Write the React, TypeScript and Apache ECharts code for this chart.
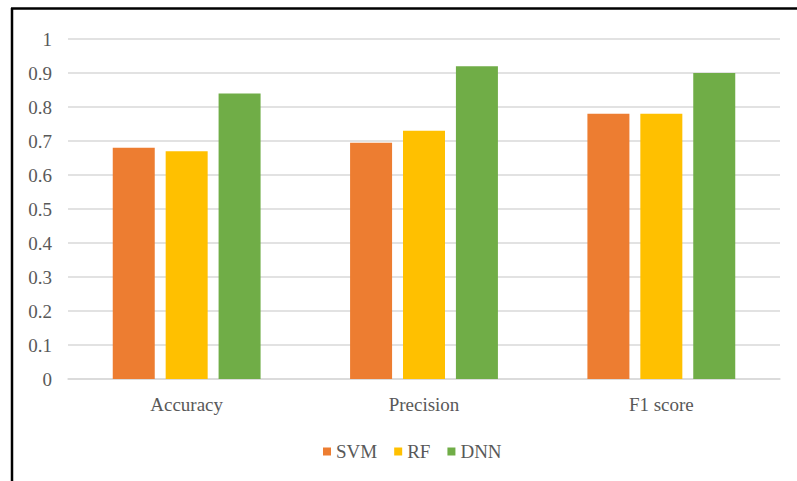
import React, { useEffect, useRef } from "react";
import * as echarts from "echarts";

const categories = ["Accuracy", "Precision", "F1 score"];
const svmValues = [0.68, 0.695, 0.78];
const rfValues = [0.67, 0.73, 0.78];
const dnnValues = [0.84, 0.92, 0.9];
const seriesNames = ["SVM", "RF", "DNN"];
const colors = ["#ED7D31", "#FFC000", "#70AD47"];

export default function App() {
  const ref = useRef<HTMLDivElement>(null);
  useEffect(() => {
    if (!ref.current) return;
    const chart = echarts.init(ref.current, undefined, { renderer: "svg" });
    const font = "Liberation Serif";
    const data = [svmValues, rfValues, dnnValues];
    chart.setOption({
      animation: false,
      backgroundColor: "#ffffff",
      textStyle: { fontFamily: font },
      grid: { left: 68, right: 17, top: 39, bottom: 102, containLabel: false },
      legend: {
        data: seriesNames,
        bottom: 15,
        left: 318,
        icon: "rect",
        itemWidth: 8,
        itemHeight: 8,
        itemGap: 17,
        textStyle: { color: "#595959", fontSize: 19, fontFamily: font },
      },
      xAxis: {
        type: "category",
        data: categories,
        axisLine: { show: true, lineStyle: { color: "#D9D9D9", width: 1.5 } },
        axisTick: { show: false },
        axisLabel: { color: "#595959", fontSize: 19, fontFamily: font, margin: 16 },
      },
      yAxis: {
        type: "value",
        min: 0,
        max: 1,
        interval: 0.1,
        axisLine: { show: false },
        axisTick: { show: false },
        splitLine: { lineStyle: { color: "#D9D9D9", width: 1.5 } },
        axisLabel: {
          color: "#595959",
          fontSize: 19,
          fontFamily: font,
          margin: 16,
          formatter: (v: number) => (Math.round(v * 10) / 10).toString(),
        },
      },
      series: seriesNames.map((name, i) => ({
        name,
        type: "bar",
        data: data[i],
        barWidth: 42,
        barGap: "26%",
        itemStyle: { color: colors[i] },
      })),
      graphic: [
        {
          type: "line",
          shape: { x1: 12, y1: 8, x2: 12, y2: 481 },
          style: { stroke: "#000", lineWidth: 2.5 },
        },
        {
          type: "line",
          shape: { x1: 11, y1: 8.5, x2: 797, y2: 8.5 },
          style: { stroke: "#000", lineWidth: 2.5 },
        },
      ],
    });
    return () => chart.dispose();
  }, []);
  return <div ref={ref} style={{ width: 797, height: 481, position: "fixed", left: 0, top: 0 }} />;
}
